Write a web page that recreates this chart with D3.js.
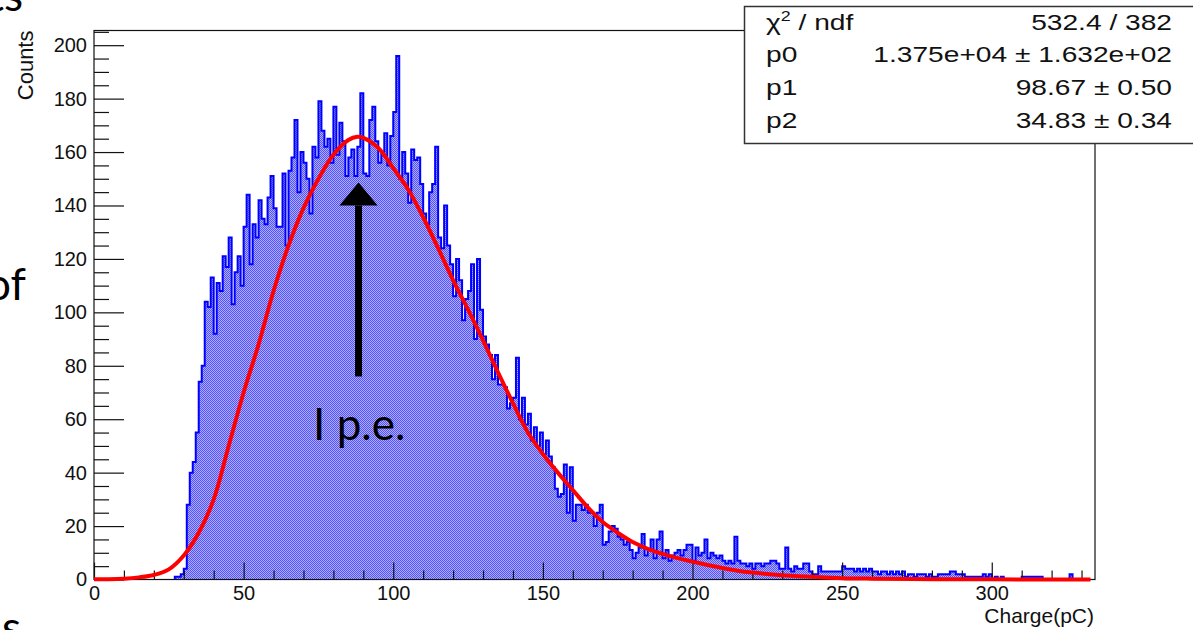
<!DOCTYPE html>
<html>
<head>
<meta charset="utf-8">
<script src="https://cdn.jsdelivr.net/npm/d3@7/dist/d3.min.js"></script>
<style>
  body { margin: 0; background: #fff; }
  svg { display: block; }
</style>
</head>
<body>
<div class="canvas"></div>
<script>
// histogram: 1 pC bins starting at 27 pC
const firstBin = 27
const binWidth = 1
const counts = [
    1, 1, 2, 4, 28, 40, 44, 55, 74, 80,
    104, 102, 113, 92, 111, 108, 121, 117, 128, 103,
    115, 121, 110, 132, 144, 118, 133, 128, 142, 135,
    133, 143, 151, 139, 132, 132, 152, 125, 153, 158,
    172, 145, 160, 156, 150, 137, 162, 158, 179, 168,
    162, 165, 156, 177, 159, 171, 164, 151, 158, 161,
    151, 162, 182, 152, 151, 172, 177, 164, 156, 160,
    167, 155, 166, 175, 196, 150, 160, 152, 141, 161,
    157, 158, 148, 137, 133, 145, 148, 162, 128, 124,
    140, 125, 118, 106, 120, 112, 97, 105, 108, 118,
    90, 120, 101, 91, 88, 84, 75, 84, 73, 73,
    72, 64, 66, 68, 83, 60, 68, 58, 62, 52,
    57, 50, 55, 47, 52, 46, 42, 34, 31, 32,
    43, 25, 42, 22, 28, 28, 26, 28, 25, 25,
    20, 25, 28, 13, 14, 18, 20, 19, 16, 15,
    13, 14, 11, 8, 10, 12, 17, 9, 11, 15,
    8, 15, 18, 8, 11, 7, 9, 10, 11, 9,
    11, 13, 13, 7, 12, 9, 10, 15, 8, 10,
    9, 8, 9, 7, 6, 7, 6, 16, 7, 6,
    6, 5, 6, 4, 6, 6, 5, 6, 6, 7,
    7, 6, 4, 4, 12, 4, 3, 5, 4, 4,
    6, 6, 3, 2, 2, 5, 3, 3, 3, 3,
    3, 3, 3, 5, 4, 4, 4, 3, 4, 3,
    4, 3, 4, 3, 3, 2, 3, 3, 2, 3,
    2, 3, 2, 3, 1, 2, 2, 1, 2, 2,
    2, 1, 2, 1, 1, 2, 2, 2, 2, 3,
    3, 2, 2, 2, 1, 1, 1, 1, 1, 1,
    2, 1, 2, 0, 1, 0, 1, 0, 0, 0,
    0, 0, 0, 1, 1, 1, 1, 1, 1, 1,
    0, 0, 0, 0, 0, 0, 0, 0, 0, 2,
    0
]

// fit curve
const fitX = [0, 5, 10, 15, 20, 25, 30, 35, 40, 45, 50, 55, 60, 65, 70, 75, 80, 85, 88, 90,
    95, 100, 105, 110, 115, 120, 125, 130, 135, 140, 145, 150, 155, 160, 165, 170, 175, 180,
    185, 190, 195, 200, 205, 210, 215, 220, 230, 240, 250, 260, 280, 300, 333]
const fitY = [0.1, 0.1, 0.3, 0.8, 1.7, 3.8, 9, 17.5, 30, 50, 70, 88, 108, 125, 139, 150, 159, 164.5, 165.7, 165.3,
    161.5, 154, 146, 135.6, 124, 112, 101, 89.5, 77.5, 66, 55, 47, 40, 33.5, 27, 21.5, 17.5, 14,
    11.5, 9.6, 8, 6.7, 5.4, 4.3, 3.3, 2.6, 1.6, 1.0, 0.5, 0.3, 0.1, 0.05, 0]

const xTicks = [0, 50, 100, 150, 200, 250, 300]
const yTicks = [0, 20, 40, 60, 80, 100, 120, 140, 160, 180, 200]

const statLabels = ['p0', 'p1', 'p2']
const statValues = ['1.375e+04 \u00b1 1.632e+02', '98.67 \u00b1 0.50', '34.83 \u00b1 0.34']
const chi2Value = '532.4 / 382'

const dims = { width: 1193, height: 630 }
const frame = { left: 94, right: 1095, top: 30.5, bottom: 579.5 }

const svg = d3.select('.canvas')
    .append('svg')
    .attr('width', dims.width)
    .attr('height', dims.height)
    .style('font-family', '"Liberation Sans", Arial, sans-serif')

const x = d3.scaleLinear().domain([0, 334.5]).range([frame.left, frame.right])
const y = d3.scaleLinear().domain([0, 205.5]).range([frame.bottom, frame.top])

// checker fill like ROOT's pattern fill
const pat = svg.append('defs').append('pattern')
    .attr('id', 'checker')
    .attr('patternUnits', 'userSpaceOnUse')
    .attr('width', 2)
    .attr('height', 2)
pat.append('rect').attr('width', 2).attr('height', 2).attr('fill', '#b0b0ff')
pat.append('rect').attr('width', 1).attr('height', 1).attr('fill', '#5050ff')
pat.append('rect').attr('x', 1).attr('y', 1).attr('width', 1).attr('height', 1).attr('fill', '#5050ff')

// step points of the histogram
const steps = [[firstBin, 0]]
counts.forEach((c, i) => {
    const lo = firstBin + i * binWidth
    steps.push([lo, c], [lo + binWidth, c])
})
steps.push([firstBin + counts.length * binWidth, 0])

svg.append('path')
    .datum(steps)
    .attr('fill', 'url(#checker)')
    .attr('d', d3.area().x(d => x(d[0])).y0(y(0)).y1(d => y(d[1])))

svg.append('path')
    .datum(steps)
    .attr('fill', 'none')
    .attr('stroke', '#0000ff')
    .attr('stroke-width', 2)
    .attr('d', d3.line().x(d => x(d[0])).y(d => y(d[1])))

// frame
svg.append('rect')
    .attr('x', frame.left)
    .attr('y', frame.top)
    .attr('width', frame.right - frame.left)
    .attr('height', frame.bottom - frame.top)
    .attr('fill', 'none')
    .attr('stroke', '#111')
    .attr('stroke-width', 1.2)

// y axis
const yAxis = svg.append('g')
    .attr('transform', `translate(${frame.left},0)`)
    .call(d3.axisLeft(y).tickValues(yTicks).tickSizeInner(-30).tickSizeOuter(0).tickPadding(7))
yAxis.select('.domain').remove()
yAxis.selectAll('line').attr('stroke', '#111').attr('stroke-width', 1.2)
yAxis.selectAll('text').attr('font-size', 20).attr('fill', '#111').attr('font-family', '"Liberation Sans", Arial, sans-serif')

const yMinor = svg.append('g')
    .attr('transform', `translate(${frame.left},0)`)
    .call(d3.axisLeft(y).tickValues(d3.range(0, 206, 5).filter(v => v % 20)).tickSize(-15).tickFormat(''))
yMinor.select('.domain').remove()
yMinor.selectAll('line').attr('stroke', '#111').attr('stroke-width', 1.2)

// x axis
const xAxis = svg.append('g')
    .attr('transform', `translate(0,${frame.bottom})`)
    .call(d3.axisBottom(x).tickValues(xTicks).tickSizeInner(-17).tickSizeOuter(0).tickPadding(6))
xAxis.select('.domain').remove()
xAxis.selectAll('line').attr('stroke', '#111').attr('stroke-width', 1.2)
xAxis.selectAll('text').attr('font-size', 20).attr('fill', '#111').attr('font-family', '"Liberation Sans", Arial, sans-serif')

const xMinor = svg.append('g')
    .attr('transform', `translate(0,${frame.bottom})`)
    .call(d3.axisBottom(x).tickValues(d3.range(10, 334, 10).filter(v => v % 50)).tickSize(-9).tickFormat(''))
xMinor.select('.domain').remove()
xMinor.selectAll('line').attr('stroke', '#111').attr('stroke-width', 1.2)

// axis titles
svg.append('text')
    .text('Counts')
    .attr('transform', `translate(33,${frame.top}) rotate(-90)`)
    .attr('text-anchor', 'end')
    .attr('font-size', 22)
    .attr('fill', '#111')

svg.append('text')
    .text('Charge(pC)')
    .attr('x', frame.right - 1)
    .attr('y', 623)
    .attr('text-anchor', 'end')
    .attr('font-size', 21)
    .attr('fill', '#111')

// fit
svg.append('path')
    .datum(fitX.map((v, i) => [v, fitY[i]]))
    .attr('fill', 'none')
    .attr('stroke', '#ff0000')
    .attr('stroke-width', 4)
    .attr('stroke-linejoin', 'round')
    .attr('d', d3.line().curve(d3.curveCatmullRom).x(d => x(d[0])).y(d => y(d[1])))

// annotation arrow, in data units
const arrow = { x: 88.4, bottom: 76, headBase: 140, tip: 148.6, halfHead: 6.4 }
svg.append('rect')
    .attr('x', x(arrow.x) - 3.5)
    .attr('y', y(arrow.headBase))
    .attr('width', 7)
    .attr('height', y(arrow.bottom) - y(arrow.headBase))
    .attr('fill', '#000')
svg.append('path')
    .attr('d', `M${x(arrow.x - arrow.halfHead)},${y(arrow.headBase)} L${x(arrow.x + arrow.halfHead)},${y(arrow.headBase)} L${x(arrow.x)},${y(arrow.tip)} Z`)
    .attr('fill', '#000')

svg.append('text')
    .text('I p.e.')
    .attr('x', x(73.2))
    .attr('y', y(52.4))
    .attr('font-family', 'Lato, "Open Sans", sans-serif')
    .attr('font-size', 44)
    .attr('fill', '#000')

// stats box (text is wider than tall in the picture)
const box = svg.append('g')
box.append('rect')
    .attr('x', 744.5)
    .attr('y', 6.5)
    .attr('width', 500)
    .attr('height', 137)
    .attr('fill', '#fff')
    .attr('stroke', '#333')
    .attr('stroke-width', 1.5)

const rowY = [30, 62, 95, 128]
const stretch = 1.28
const statText = (tx, ty, anchor) => box.append('text')
    .attr('transform', `translate(${tx},${ty}) scale(${stretch},1)`)
    .attr('text-anchor', anchor)
    .attr('font-size', 22)
    .attr('fill', '#111')

const chiLabel = statText(766, rowY[0], 'start')
chiLabel.append('tspan').text('\u03c7')
chiLabel.append('tspan').text('2').attr('font-size', 14).attr('dy', -9)
chiLabel.append('tspan').text(' / ndf').attr('dy', 9)

statText(1172, rowY[0], 'end').text(chi2Value)

statLabels.forEach((lab, i) => {
    statText(766, rowY[i + 1], 'start').text(lab)
    statText(1172, rowY[i + 1], 'end').text(statValues[i])
})

// slide text that is cut by the picture edge
const slide = svg.append('g')
    .attr('font-family', 'Lato, "Open Sans", sans-serif')
    .attr('font-size', 44)
    .attr('fill', '#000')
slide.append('text').text('ts').attr('x', 23).attr('y', 11).attr('text-anchor', 'end')
slide.append('text').text('of').attr('x', 26).attr('y', 300).attr('text-anchor', 'end')
slide.append('text').text('s').attr('x', 2).attr('y', 643)
</script>
</body>
</html>
